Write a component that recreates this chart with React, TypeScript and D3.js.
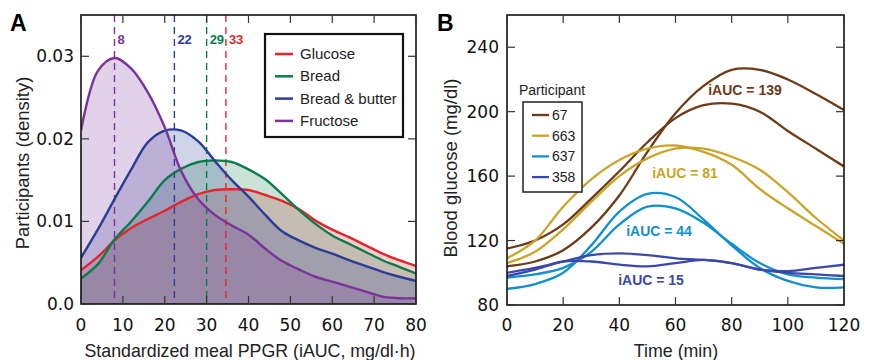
import * as d3 from "d3";

// ---- Panel A: density of standardized meal PPGR ----
const densityX = [0, 4, 8, 12, 16, 20, 24, 28, 32, 36, 40, 44, 48, 52, 56, 60, 64, 68, 72, 76, 80];
const glucose = [0.0041, 0.0057, 0.0077, 0.0092, 0.0103, 0.0113, 0.0124, 0.0133, 0.0138, 0.0139, 0.0138, 0.0132, 0.0125, 0.0115, 0.0101, 0.009, 0.0081, 0.0071, 0.0061, 0.0053, 0.0046];
const bread = [0.0031, 0.0048, 0.0078, 0.01, 0.0124, 0.015, 0.0164, 0.0172, 0.0174, 0.0172, 0.0163, 0.0151, 0.0133, 0.0114, 0.0097, 0.0083, 0.0073, 0.0063, 0.0053, 0.0045, 0.0037];
const breadButter = [0.0056, 0.009, 0.0127, 0.0163, 0.0196, 0.021, 0.021, 0.0197, 0.0173, 0.015, 0.013, 0.0108, 0.0088, 0.0077, 0.0068, 0.0061, 0.0053, 0.0046, 0.0039, 0.0033, 0.0028];
const fructose = [0.021, 0.0282, 0.0298, 0.0285, 0.0256, 0.0214, 0.016, 0.0127, 0.0108, 0.0095, 0.0084, 0.0067, 0.0052, 0.0042, 0.0033, 0.0027, 0.0021, 0.0015, 0.0009, 0.0007, 0.0007];
const mealNames = ["Glucose", "Bread", "Bread & butter", "Fructose"];
const mealColors = ["#e3262b", "#0c7d4a", "#2b3d97", "#7a3399"];
const medianPos = [34.6, 30, 22.3, 8];
const medianLabels = ["33", "29", "22", "8"];
const ticksA = [0, 10, 20, 30, 40, 50, 60, 70, 80];
const ticksAy = [0, 0.01, 0.02, 0.03];

// ---- Panel B: glucose responses, two per participant ----
const timeX = [0, 10, 20, 30, 40, 50, 60, 70, 80, 90, 100, 110, 120];
const p67a = [104, 107, 114, 128, 148, 175, 199, 216, 226, 226, 220, 211, 201];
const p67b = [115, 120, 130, 146, 163, 181, 196, 204, 205, 200, 188, 177, 166];
const p663a = [109, 120, 141, 158, 170, 177, 179, 175, 167, 152, 140, 129, 118];
const p663b = [106, 113, 127, 144, 160, 171, 177, 177, 172, 164, 150, 134, 120];
const p637a = [90, 93, 100, 117, 138, 149, 147, 133, 117, 103, 95, 91, 91];
const p637b = [97, 99, 103, 113, 130, 141, 140, 131, 118, 106, 99, 97, 96];
const p358a = [100, 103, 107, 111, 112, 111, 109, 108, 106, 102, 100, 99, 98];
const p358b = [98, 102, 107, 107, 105, 104, 106, 108, 106, 102, 101, 103, 105];
const participants = ["67", "663", "637", "358"];
const partColors = ["#6e3a17", "#c9a52a", "#138fcf", "#3c48a9"];
const iaucLabels = ["iAUC = 139", "iAUC = 81", "iAUC = 44", "iAUC = 15"];
const ticksBx = [0, 20, 40, 60, 80, 100, 120];
const ticksBy = [80, 120, 160, 200, 240];

const tickFont = "DejaVu Sans, sans-serif";
const textFont = "Liberation Sans, Arial, sans-serif";
const narrowFont = "Liberation Sans Narrow, Arial Narrow, Liberation Sans, sans-serif";

function PanelA() {
  const x = d3.scaleLinear().domain([0, 80]).range([81, 416]);
  const y = d3.scaleLinear().domain([0, 0.035]).range([304, 15]);
  const series = [glucose, bread, breadButter, fructose];
  const area = d3
    .area<number>()
    .x((_, i) => x(densityX[i]))
    .y0(y(0))
    .y1((d) => y(d))
    .curve(d3.curveCatmullRom);
  const line = d3
    .line<number>()
    .x((_, i) => x(densityX[i]))
    .y((d) => y(d))
    .curve(d3.curveCatmullRom);

  return (
    <g>
      <text x={10} y={31} fontFamily={textFont} fontWeight="bold" fontSize={23}>A</text>
      <defs>
        <clipPath id="clipA">
          <rect x={81} y={15} width={335} height={289} />
        </clipPath>
      </defs>
      <g clipPath="url(#clipA)">
        {series.map((s, i) => (
          <path key={"a" + i} d={area(s) || ""} fill={mealColors[i]} fillOpacity={0.22} />
        ))}
        {medianPos.map((m, i) => (
          <line key={"m" + i} x1={x(m)} x2={x(m)} y1={15} y2={304} stroke={mealColors[i]} strokeWidth={1.4} strokeDasharray="7,5" />
        ))}
        {series.map((s, i) => (
          <path key={"l" + i} d={line(s) || ""} fill="none" stroke={mealColors[i]} strokeWidth={2.4} />
        ))}
      </g>
      {medianPos.map((m, i) => (
        <text key={"ml" + i} x={x(m) + 3} y={44} fill={mealColors[i]} fontFamily={textFont} fontWeight="bold" fontSize={13}>
          {medianLabels[i]}
        </text>
      ))}
      {/* frame + inward ticks */}
      <rect x={81} y={15} width={335} height={289} fill="none" stroke="#111" strokeWidth={1.6} />
      {ticksA.map((t) => (
        <g key={"tx" + t}>
          <line x1={x(t)} x2={x(t)} y1={304} y2={296} stroke="#333" strokeWidth={1.2} />
          <line x1={x(t)} x2={x(t)} y1={15} y2={23} stroke="#333" strokeWidth={1.2} />
          <text x={x(t)} y={331} textAnchor="middle" fontFamily={tickFont} fontSize={17} fill="#111">{t}</text>
        </g>
      ))}
      {ticksAy.map((t) => (
        <g key={"ty" + t}>
          <line x1={81} x2={89} y1={y(t)} y2={y(t)} stroke="#333" strokeWidth={1.2} />
          <line x1={416} x2={408} y1={y(t)} y2={y(t)} stroke="#333" strokeWidth={1.2} />
          <text x={74} y={y(t) + 6} textAnchor="end" fontFamily={tickFont} fontSize={17} fill="#111">
            {t === 0 ? "0.0" : d3.format(".2f")(t)}
          </text>
        </g>
      ))}
      <text x={250} y={357} textAnchor="middle" fontFamily={textFont} fontSize={17.8} fill="#222">
        Standardized meal PPGR (iAUC, mg/dl·h)
      </text>
      <text transform="translate(29,163) rotate(-90)" textAnchor="middle" fontFamily={textFont} fontSize={18.5} fill="#222">
        Participants (density)
      </text>
      {/* legend */}
      <rect x={265} y={34} width={138} height={103} fill="#fff" stroke="#111" strokeWidth={2.2} />
      {mealNames.map((n, i) => (
        <g key={"lg" + i} transform={`translate(0,${54 + i * 22.3})`}>
          <line x1={275} x2={293} y1={0} y2={0} stroke={mealColors[i]} strokeWidth={2.5} />
          <text x={300} y={5} fontFamily={textFont} fontSize={15} fill="#222">{n}</text>
        </g>
      ))}
    </g>
  );
}

function PanelB() {
  const x = d3.scaleLinear().domain([0, 120]).range([507, 844]);
  const y = d3.scaleLinear().domain([80, 260]).range([305, 15]);
  const curves = [
    [p67a, 0], [p67b, 0], [p663a, 1], [p663b, 1],
    [p637a, 2], [p637b, 2], [p358a, 3], [p358b, 3],
  ] as [number[], number][];
  const line = d3
    .line<number>()
    .x((_, i) => x(timeX[i]))
    .y((d) => y(d))
    .curve(d3.curveCatmullRom);
  const labelPos = [[745, 95], [685, 178], [659, 236], [651, 285]];

  return (
    <g>
      <text x={437} y={31} fontFamily={textFont} fontWeight="bold" fontSize={23}>B</text>
      <defs>
        <clipPath id="clipB">
          <rect x={507} y={15} width={337} height={290} />
        </clipPath>
      </defs>
      <g clipPath="url(#clipB)">
        {curves.map(([s, c], i) => (
          <path key={"b" + i} d={line(s) || ""} fill="none" stroke={partColors[c]} strokeWidth={2.3} />
        ))}
      </g>
      {iaucLabels.map((t, i) => (
        <text key={"ia" + i} x={labelPos[i][0]} y={labelPos[i][1]} textAnchor="middle" fill={partColors[i]} fontFamily={narrowFont} fontWeight="bold" fontSize={14}>
          {t}
        </text>
      ))}
      <rect x={507} y={15} width={337} height={290} fill="none" stroke="#111" strokeWidth={1.6} />
      {ticksBx.map((t) => (
        <g key={"bx" + t}>
          <line x1={x(t)} x2={x(t)} y1={305} y2={297} stroke="#333" strokeWidth={1.2} />
          <line x1={x(t)} x2={x(t)} y1={15} y2={23} stroke="#333" strokeWidth={1.2} />
          <text x={x(t)} y={331} textAnchor="middle" fontFamily={tickFont} fontSize={17} fill="#111">{t}</text>
        </g>
      ))}
      {ticksBy.map((t) => (
        <g key={"by" + t}>
          <line x1={507} x2={515} y1={y(t)} y2={y(t)} stroke="#333" strokeWidth={1.2} />
          <line x1={844} x2={836} y1={y(t)} y2={y(t)} stroke="#333" strokeWidth={1.2} />
          <text x={499} y={y(t) + 6} textAnchor="end" fontFamily={tickFont} fontSize={17} fill="#111">{t}</text>
        </g>
      ))}
      <text x={676} y={357} textAnchor="middle" fontFamily={textFont} fontSize={17.8} fill="#222">Time (min)</text>
      <text transform="translate(457,168) rotate(-90)" textAnchor="middle" fontFamily={textFont} fontSize={18.5} fill="#222">
        Blood glucose (mg/dl)
      </text>
      {/* legend */}
      <text x={552} y={95} textAnchor="middle" fontFamily={narrowFont} fontSize={14} fill="#222">Participant</text>
      <rect x={523} y={102} width={59} height={90} fill="#fff" stroke="#222" strokeWidth={1.5} />
      {participants.map((p, i) => (
        <g key={"pl" + i} transform={`translate(0,${115 + i * 20.7})`}>
          <line x1={532} x2={549} y1={0} y2={0} stroke={partColors[i]} strokeWidth={2.3} />
          <text x={552} y={5} fontFamily={narrowFont} fontSize={14} fill="#222">{p}</text>
        </g>
      ))}
    </g>
  );
}

export default function App() {
  return (
    <svg width={872} height={360} style={{ position: "absolute", left: 0, top: 0, background: "#fff" }}>
      <PanelA />
      <PanelB />
    </svg>
  );
}
